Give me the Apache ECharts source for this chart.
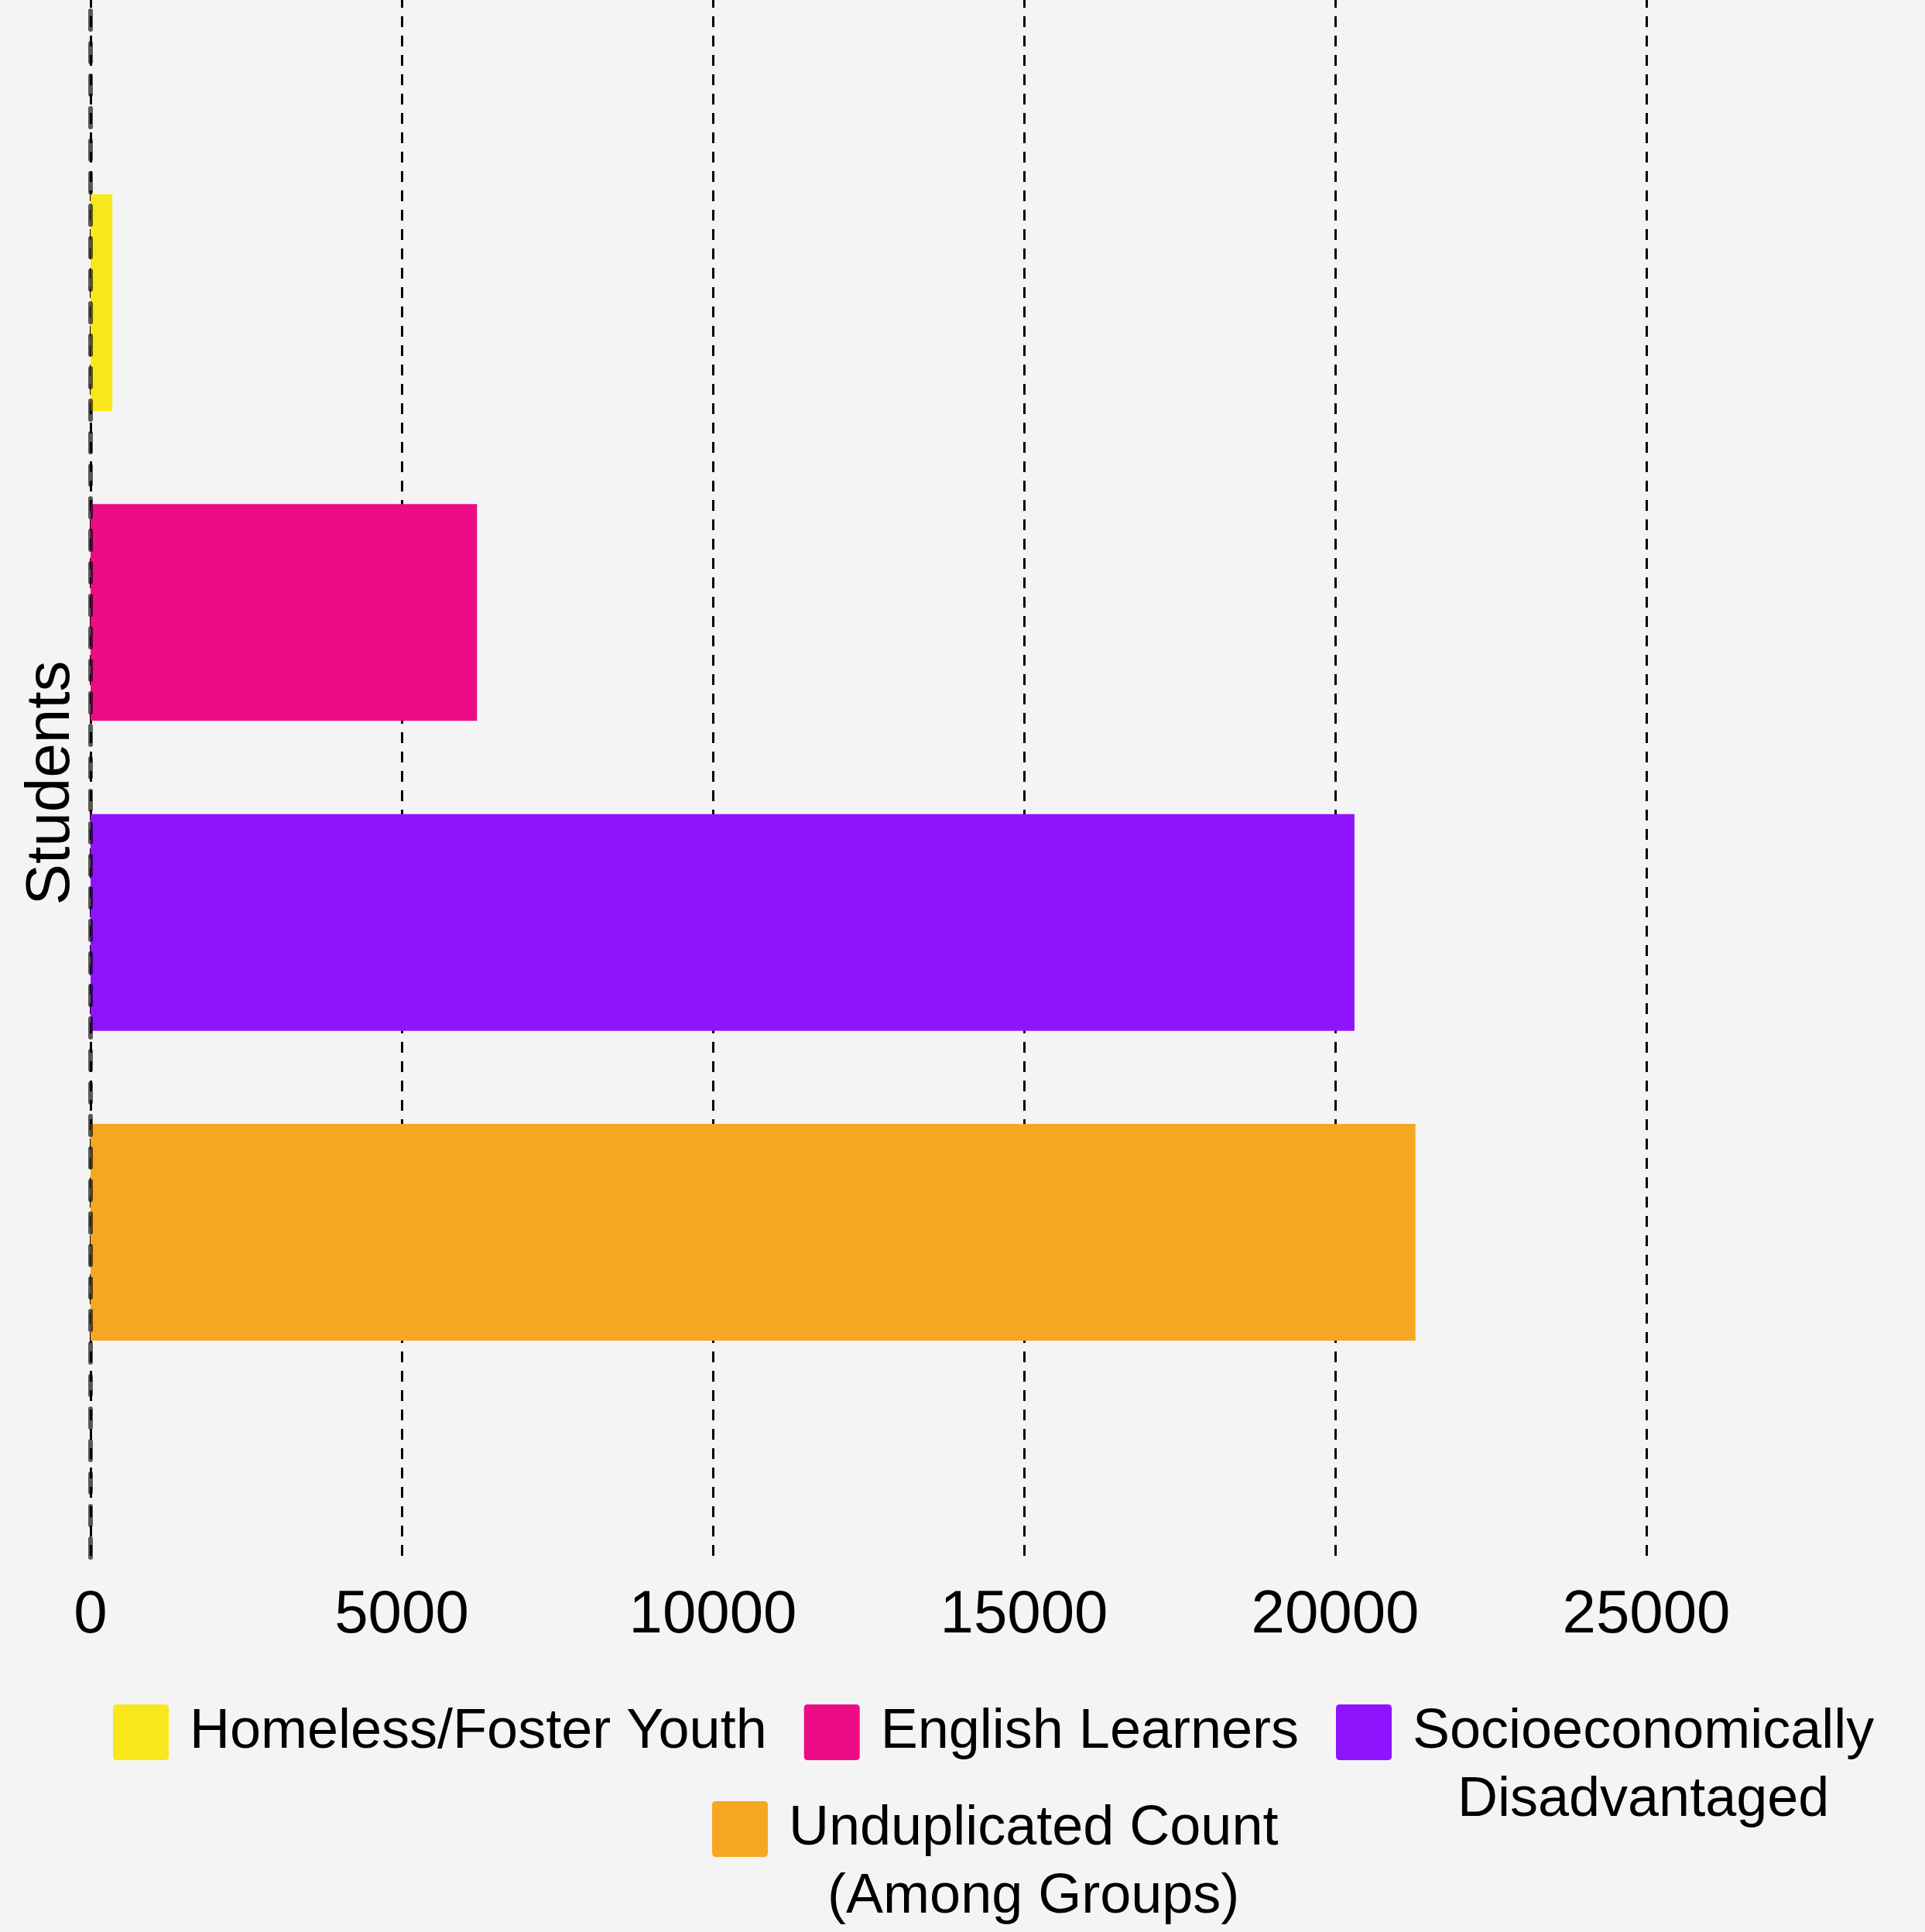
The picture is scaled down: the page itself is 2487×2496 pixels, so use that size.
<!DOCTYPE html>
<html>
<head>
<meta charset="utf-8">
<script src="https://cdn.jsdelivr.net/npm/echarts@6/dist/echarts.min.js"></script>
<style>
html,body{margin:0;padding:0;background:#f4f4f4;}
#chart{width:2487px;height:2496px;}
</style>
</head>
<body>
<div id="chart"></div>
<script>
// ---- data ----
const categories = ['Students'];
const seriesNames = [
  'Homeless/Foster Youth',
  'English Learners',
  'Socioeconomically Disadvantaged',
  'Unduplicated Count (Among Groups)'
];
const legendLabels = [
  ['Homeless/Foster Youth'],
  ['English Learners'],
  ['Socioeconomically', 'Disadvantaged'],
  ['Unduplicated Count', '(Among Groups)']
];
const values = [350, 6210, 20310, 21290];
const xMin = 0, xMax = 30000, xInterval = 5000;

// ---- styles ----
const colors = ['#f8e71c', '#ec0c86', '#9013fe', '#f5a623'];
const FONT = "'Liberation Sans', Arial, sans-serif";
const iconPath = 'path://M5,0 H67 Q72,0 72,5 V67 Q72,72 67,72 H5 Q0,72 0,67 V5 Q0,0 5,0 Z';

const chart = echarts.init(document.getElementById('chart'), null, {renderer: 'canvas'});

function legendFormatter(name) {
  const idx = seriesNames.indexOf(name);
  const lines = legendLabels[idx];
  if (lines.length === 1) return lines[0];
  return lines.map(l => '{c|' + l + '}').join('\n');
}
const richC = {c: {align: 'center', fontSize: 72, lineHeight: 88, fontFamily: FONT, color: '#000'}};

function legendItem(i) {
  const item = {name: seriesNames[i], icon: iconPath};
  if (legendLabels[i].length > 1) {
    item.textStyle = {padding: [88, 0, 0, 22]};
  }
  return item;
}

const series = seriesNames.map((name, i) => ({
  name: name,
  type: 'bar',
  data: [values[i]],
  barWidth: 280,
  barGap: '43%',
  itemStyle: {color: colors[i]},
  z: 2
}));

chart.setOption({
  backgroundColor: '#f4f4f4',
  animation: false,
  grid: {left: 117, width: 2412, top: -29, height: 2041, outerBoundsMode: 'none', containLabel: false},
  xAxis: {
    type: 'value',
    min: xMin, max: xMax, interval: xInterval,
    axisLine: {show: false},
    axisTick: {show: false},
    axisLabel: {
      fontSize: 78, fontFamily: FONT, color: '#000', margin: 36,
      showMaxLabel: false,
      formatter: function (v) { return String(v); }
    },
    splitLine: {show: true, lineStyle: {color: '#000', width: 3, type: [14, 11]}}
  },
  yAxis: {
    type: 'category',
    data: categories,
    z: 5,
    axisLine: {show: true, lineStyle: {color: 'rgba(0,0,0,0.64)', width: 6, type: [24, 18]}},
    axisTick: {show: false},
    splitLine: {show: false},
    axisLabel: {
      rotate: 90, fontSize: 80, fontFamily: FONT, color: '#000', margin: 10,
      padding: [0, 40, 0, 0]
    }
  },
  legend: [
    {
      left: 146, top: 2106, padding: 0,
      orient: 'horizontal',
      itemWidth: 72, itemHeight: 72, itemGap: 48,
      data: [0, 1, 2].map(legendItem),
      formatter: legendFormatter,
      textStyle: {fontSize: 72, fontFamily: FONT, color: '#000', lineHeight: 88, padding: [0, 0, 0, 22], rich: richC}
    },
    {
      left: 920, top: 2231, padding: 0,
      orient: 'horizontal',
      itemWidth: 72, itemHeight: 72, itemGap: 48,
      data: [3].map(legendItem),
      formatter: legendFormatter,
      textStyle: {fontSize: 72, fontFamily: FONT, color: '#000', lineHeight: 88, padding: [88, 0, 0, 22], rich: richC}
    }
  ],
  series: series
});
</script>
</body>
</html>
